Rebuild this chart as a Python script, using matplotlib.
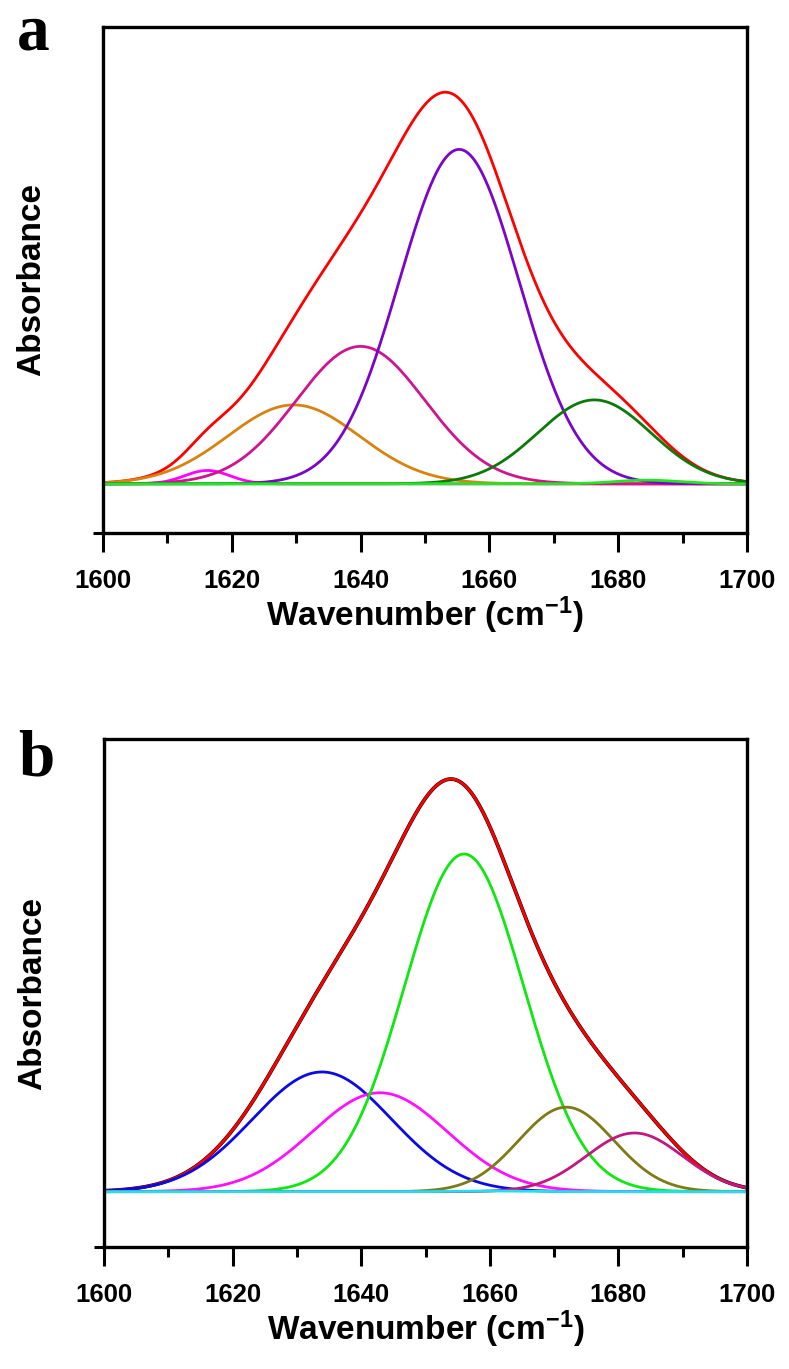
import numpy as np
import matplotlib
matplotlib.use('Agg')
from matplotlib import pyplot as plt
from matplotlib.ticker import MultipleLocator

plt.rcParams['font.family'] = ['Liberation Sans', 'DejaVu Sans']
plt.rcParams['mathtext.fontset'] = 'custom'
plt.rcParams['mathtext.bf'] = 'Liberation Sans:bold'
plt.rcParams['mathtext.rm'] = 'Liberation Sans:bold'
plt.rcParams['mathtext.default'] = 'bf'

# band fit components (gaussian centre, height, sigma)
a_centers = [1616.2, 1629.6, 1640.0, 1655.3, 1676.3, 1684.5]
a_heights = [0.040, 0.236, 0.411, 1.000, 0.251, 0.011]
a_sigmas = [3.5, 10.2, 10.0, 9.3, 8.8, 5.0]
a_colors = ['#ff00ff', '#d9820f', '#cf1490', '#7a05c8', '#0b7a0b', '#1ee81e']

b_centers = [1633.9, 1642.9, 1656.0, 1671.9, 1682.5, 1660.0]
b_heights = [0.357, 0.295, 1.007, 0.252, 0.175, 0.002]
b_sigmas = [10.8, 10.5, 9.3, 7.4, 7.5, 5.0]
b_colors = ['#0a0ae6', '#ff10ff', '#10e610', '#7f7a14', '#c0187f', '#20e0f0']

xticks = [1600, 1620, 1640, 1660, 1680, 1700]

wn = np.linspace(1600, 1700, 801)


def band(c, h, s):
    return h * np.exp(-(wn - c) ** 2 / (2 * s ** 2))


def style_axes(ax, ylim, letter, h_px, top_px, base_px):
    ax.set_xlim(1600, 1700)
    ax.set_ylim(*ylim)
    ax.set_xticks(xticks)
    ax.xaxis.set_minor_locator(MultipleLocator(10))
    ax.set_yticks([ylim[0]])
    ax.set_yticklabels([])
    ax.tick_params(axis='x', which='major', length=14, width=2.2, pad=12,
                   labelsize=18.5)
    ax.tick_params(axis='x', which='minor', length=7, width=2.2)
    ax.tick_params(axis='y', which='major', length=7, width=2.2)
    for lab in ax.get_xticklabels():
        lab.set_fontweight('bold')
    for sp in ax.spines.values():
        sp.set_linewidth(2.4)
    ax.set_xlabel(r'Wavenumber (cm$^{-1}$)', fontsize=24, fontweight='bold')
    ax.xaxis.set_label_coords(0.5, -61 / h_px)
    ax.set_ylabel('Absorbance', fontsize=24, fontweight='bold')
    ax.yaxis.set_label_coords(-56 / 644, 0.5)
    ax.text(-0.1335, 1 - (base_px - top_px) / h_px, letter,
            transform=ax.transAxes, fontsize=47, fontweight='bold',
            family='Liberation Serif', va='baseline', ha='left')


fig = plt.figure(figsize=(7.89, 13.69), dpi=100)

# panel a
ax1 = fig.add_axes([103 / 789, 1 - 533 / 1369, 644 / 789, 506 / 1369])
comps_a = [band(c, h, s) for c, h, s in zip(a_centers, a_heights, a_sigmas)]
ax1.plot(wn, np.sum(comps_a, axis=0), color='#ff0000', lw=2)
for y, col in zip(comps_a, a_colors):
    ax1.plot(wn, y, color=col, lw=2)
style_axes(ax1, (-0.147, 1.366), 'a', 506, 27, 50)

# panel b
ax2 = fig.add_axes([104 / 789, 1 - 1247 / 1369, 643 / 789, 508 / 1369])
comps_b = [band(c, h, s) for c, h, s in zip(b_centers, b_heights, b_sigmas)]
total_b = np.sum(comps_b, axis=0)
ax2.plot(wn, total_b, color='#000000', lw=2.7)
ax2.plot(wn, total_b, color='#ff0000', lw=2)
for y, col in zip(comps_b, b_colors):
    ax2.plot(wn, y, color=col, lw=2)
style_axes(ax2, (-0.165, 1.350), 'b', 508, 739, 775)

fig.savefig('out.png', dpi=100)
